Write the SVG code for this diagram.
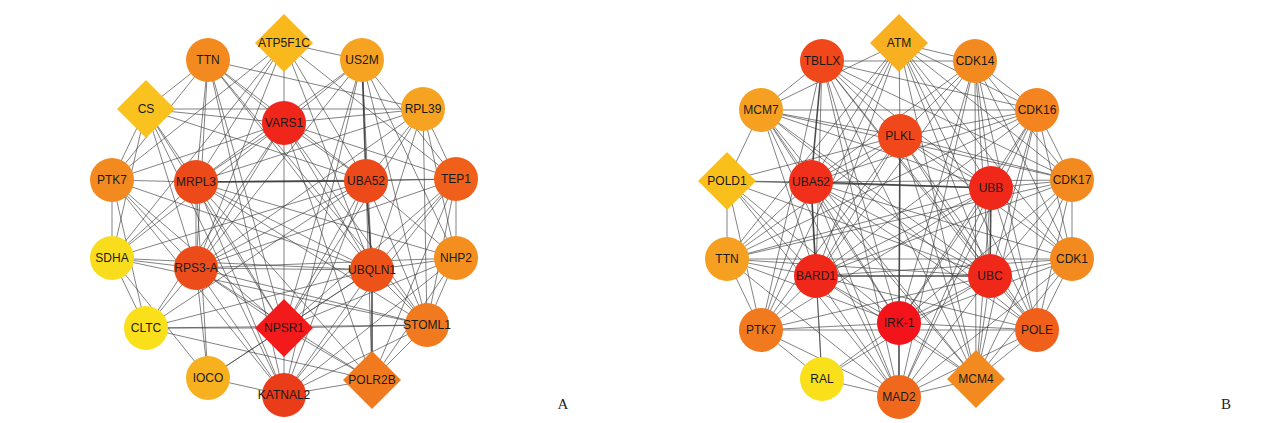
<svg xmlns="http://www.w3.org/2000/svg" width="1268" height="423" viewBox="0 0 1268 423">
<style>
.e line{stroke:#3a3a3a;stroke-width:0.7;stroke-opacity:0.9}
.e line.t{stroke-width:1.6}
text{font-family:"Liberation Sans",Arial,sans-serif;font-size:12px;fill:#1a1a1a;text-anchor:middle;dominant-baseline:central}
.lab{font-family:"Liberation Serif","Times New Roman",serif;font-size:15px;fill:#222}
</style>
<rect width="1268" height="423" fill="#ffffff"/>
<g id="edges-A" class="e">
<line x1="208" y1="60" x2="146" y2="109"/><line x1="208" y1="60" x2="284" y2="123"/><line x1="208" y1="60" x2="196" y2="182"/><line x1="208" y1="60" x2="196" y2="268"/><line x1="208" y1="60" x2="366" y2="181"/><line x1="208" y1="60" x2="423" y2="109"/><line x1="208" y1="60" x2="372" y2="270"/><line x1="208" y1="60" x2="284" y2="395"/><line x1="208" y1="60" x2="427" y2="325"/><line x1="208" y1="60" x2="112" y2="180"/><line x1="208" y1="60" x2="284" y2="328"/>
<line x1="284" y1="43" x2="362" y2="60"/><line x1="284" y1="43" x2="284" y2="123"/><line x1="284" y1="43" x2="196" y2="182"/><line x1="284" y1="43" x2="112" y2="180"/><line x1="284" y1="43" x2="196" y2="268"/><line x1="284" y1="43" x2="366" y2="181"/><line x1="284" y1="43" x2="372" y2="270"/><line x1="284" y1="43" x2="456" y2="179"/><line x1="284" y1="43" x2="112" y2="258"/>
<line x1="362" y1="60" x2="284" y2="123"/><line class="t" x1="362" y1="60" x2="366" y2="181"/><line x1="362" y1="60" x2="196" y2="182"/><line x1="362" y1="60" x2="372" y2="270"/><line x1="362" y1="60" x2="456" y2="179"/><line x1="362" y1="60" x2="456" y2="258"/><line x1="362" y1="60" x2="196" y2="268"/><line x1="362" y1="60" x2="284" y2="328"/><line x1="362" y1="60" x2="284" y2="395"/><line x1="362" y1="60" x2="427" y2="325"/>
<line x1="146" y1="109" x2="284" y2="123"/><line x1="146" y1="109" x2="423" y2="109"/><line x1="146" y1="109" x2="112" y2="180"/><line x1="146" y1="109" x2="196" y2="182"/><line x1="146" y1="109" x2="196" y2="268"/><line x1="146" y1="109" x2="366" y2="181"/><line x1="146" y1="109" x2="112" y2="258"/><line x1="146" y1="109" x2="284" y2="328"/><line x1="146" y1="109" x2="284" y2="395"/>
<line x1="423" y1="109" x2="284" y2="123"/><line x1="423" y1="109" x2="196" y2="182"/><line x1="423" y1="109" x2="366" y2="181"/><line x1="423" y1="109" x2="456" y2="179"/><line x1="423" y1="109" x2="372" y2="270"/><line x1="423" y1="109" x2="456" y2="258"/><line x1="423" y1="109" x2="427" y2="325"/><line x1="423" y1="109" x2="196" y2="268"/><line x1="423" y1="109" x2="284" y2="328"/>
<line x1="284" y1="123" x2="196" y2="182"/><line x1="284" y1="123" x2="366" y2="181"/><line x1="284" y1="123" x2="196" y2="268"/><line x1="284" y1="123" x2="372" y2="270"/><line x1="284" y1="123" x2="284" y2="328"/><line x1="284" y1="123" x2="456" y2="179"/><line x1="284" y1="123" x2="112" y2="258"/><line x1="284" y1="123" x2="427" y2="325"/><line x1="284" y1="123" x2="372" y2="380"/><line x1="284" y1="123" x2="146" y2="328"/><line x1="284" y1="123" x2="112" y2="180"/>
<line x1="112" y1="180" x2="196" y2="182"/><line x1="112" y1="180" x2="112" y2="258"/><line x1="112" y1="180" x2="196" y2="268"/><line x1="112" y1="180" x2="372" y2="270"/><line x1="112" y1="180" x2="146" y2="328"/><line x1="112" y1="180" x2="284" y2="328"/><line x1="112" y1="180" x2="284" y2="395"/>
<line class="t" x1="196" y1="182" x2="366" y2="181"/><line x1="196" y1="182" x2="196" y2="268"/><line x1="196" y1="182" x2="372" y2="270"/><line x1="196" y1="182" x2="284" y2="328"/><line x1="196" y1="182" x2="284" y2="395"/><line x1="196" y1="182" x2="372" y2="380"/><line x1="196" y1="182" x2="427" y2="325"/><line x1="196" y1="182" x2="456" y2="179"/><line x1="196" y1="182" x2="112" y2="258"/><line x1="196" y1="182" x2="456" y2="258"/><line x1="196" y1="182" x2="208" y2="378"/>
<line x1="366" y1="181" x2="456" y2="179"/><line class="t" x1="366" y1="181" x2="372" y2="270"/><line x1="366" y1="181" x2="196" y2="268"/><line x1="366" y1="181" x2="284" y2="328"/><line x1="366" y1="181" x2="284" y2="395"/><line x1="366" y1="181" x2="427" y2="325"/><line x1="366" y1="181" x2="456" y2="258"/><line x1="366" y1="181" x2="372" y2="380"/><line x1="366" y1="181" x2="146" y2="328"/><line x1="366" y1="181" x2="112" y2="258"/>
<line x1="456" y1="179" x2="372" y2="270"/><line x1="456" y1="179" x2="456" y2="258"/><line x1="456" y1="179" x2="427" y2="325"/><line x1="456" y1="179" x2="196" y2="268"/><line x1="456" y1="179" x2="284" y2="328"/><line x1="456" y1="179" x2="284" y2="395"/><line x1="456" y1="179" x2="372" y2="380"/>
<line x1="112" y1="258" x2="196" y2="268"/><line x1="112" y1="258" x2="146" y2="328"/><line x1="112" y1="258" x2="372" y2="270"/><line x1="112" y1="258" x2="427" y2="325"/><line x1="112" y1="258" x2="208" y2="378"/>
<line x1="196" y1="268" x2="372" y2="270"/><line x1="196" y1="268" x2="284" y2="328"/><line x1="196" y1="268" x2="284" y2="395"/><line x1="196" y1="268" x2="372" y2="380"/><line x1="196" y1="268" x2="427" y2="325"/><line x1="196" y1="268" x2="146" y2="328"/><line x1="196" y1="268" x2="456" y2="258"/><line x1="196" y1="268" x2="208" y2="378"/>
<line x1="372" y1="270" x2="456" y2="258"/><line x1="372" y1="270" x2="427" y2="325"/><line class="t" x1="372" y1="270" x2="372" y2="380"/><line x1="372" y1="270" x2="284" y2="328"/><line x1="372" y1="270" x2="284" y2="395"/><line x1="372" y1="270" x2="146" y2="328"/><line x1="372" y1="270" x2="208" y2="378"/>
<line x1="456" y1="258" x2="427" y2="325"/><line x1="456" y1="258" x2="284" y2="328"/><line x1="456" y1="258" x2="284" y2="395"/><line x1="456" y1="258" x2="372" y2="380"/>
<line x1="146" y1="328" x2="284" y2="328"/><line x1="146" y1="328" x2="427" y2="325"/><line x1="146" y1="328" x2="372" y2="380"/>
<line x1="284" y1="328" x2="427" y2="325"/><line x1="284" y1="328" x2="284" y2="395"/><line x1="284" y1="328" x2="372" y2="380"/><line x1="284" y1="328" x2="208" y2="378"/>
<line x1="427" y1="325" x2="372" y2="380"/><line x1="427" y1="325" x2="284" y2="395"/>
<line x1="208" y1="378" x2="284" y2="395"/><line x1="284" y1="395" x2="372" y2="380"/>
</g>
<g id="edges-B" class="e">
<line x1="899" y1="43" x2="975" y2="61"/><line x1="899" y1="43" x2="900" y2="136"/><line x1="899" y1="43" x2="811" y2="182"/><line x1="899" y1="43" x2="991" y2="188"/><line x1="899" y1="43" x2="990" y2="276"/><line x1="899" y1="43" x2="816" y2="276"/><line x1="899" y1="43" x2="1037" y2="110"/><line x1="899" y1="43" x2="1072" y2="180"/><line x1="899" y1="43" x2="1072" y2="259"/><line x1="899" y1="43" x2="1037" y2="330"/><line x1="899" y1="43" x2="761" y2="110"/><line x1="899" y1="43" x2="727" y2="259"/><line x1="899" y1="43" x2="976" y2="379"/><line x1="899" y1="43" x2="761" y2="330"/>
<line x1="822" y1="61" x2="975" y2="61"/><line x1="822" y1="61" x2="761" y2="110"/><line x1="822" y1="61" x2="900" y2="136"/><line class="t" x1="822" y1="61" x2="811" y2="182"/><line x1="822" y1="61" x2="991" y2="188"/><line x1="822" y1="61" x2="990" y2="276"/><line x1="822" y1="61" x2="816" y2="276"/><line x1="822" y1="61" x2="899" y2="323"/><line x1="822" y1="61" x2="1037" y2="110"/><line x1="822" y1="61" x2="1072" y2="180"/><line x1="822" y1="61" x2="1037" y2="330"/><line x1="822" y1="61" x2="899" y2="397"/><line x1="822" y1="61" x2="976" y2="379"/><line x1="822" y1="61" x2="761" y2="330"/>
<line x1="975" y1="61" x2="900" y2="136"/><line x1="975" y1="61" x2="811" y2="182"/><line x1="975" y1="61" x2="991" y2="188"/><line x1="975" y1="61" x2="990" y2="276"/><line x1="975" y1="61" x2="816" y2="276"/><line x1="975" y1="61" x2="899" y2="323"/><line x1="975" y1="61" x2="1037" y2="110"/><line x1="975" y1="61" x2="1072" y2="180"/><line x1="975" y1="61" x2="1072" y2="259"/><line x1="975" y1="61" x2="976" y2="379"/><line x1="975" y1="61" x2="1037" y2="330"/><line x1="975" y1="61" x2="899" y2="397"/>
<line x1="761" y1="110" x2="1037" y2="110"/><line x1="761" y1="110" x2="900" y2="136"/><line x1="761" y1="110" x2="811" y2="182"/><line x1="761" y1="110" x2="991" y2="188"/><line x1="761" y1="110" x2="990" y2="276"/><line x1="761" y1="110" x2="816" y2="276"/><line x1="761" y1="110" x2="899" y2="323"/><line x1="761" y1="110" x2="727" y2="181"/><line x1="761" y1="110" x2="899" y2="397"/><line x1="761" y1="110" x2="976" y2="379"/><line x1="761" y1="110" x2="1072" y2="180"/><line x1="761" y1="110" x2="1037" y2="330"/>
<line x1="1037" y1="110" x2="900" y2="136"/><line x1="1037" y1="110" x2="811" y2="182"/><line x1="1037" y1="110" x2="991" y2="188"/><line x1="1037" y1="110" x2="990" y2="276"/><line x1="1037" y1="110" x2="816" y2="276"/><line x1="1037" y1="110" x2="899" y2="323"/><line x1="1037" y1="110" x2="1072" y2="180"/><line x1="1037" y1="110" x2="1072" y2="259"/><line x1="1037" y1="110" x2="1037" y2="330"/><line x1="1037" y1="110" x2="976" y2="379"/><line x1="1037" y1="110" x2="899" y2="397"/><line x1="1037" y1="110" x2="727" y2="259"/>
<line x1="900" y1="136" x2="811" y2="182"/><line x1="900" y1="136" x2="991" y2="188"/><line x1="900" y1="136" x2="990" y2="276"/><line x1="900" y1="136" x2="816" y2="276"/><line class="t" x1="900" y1="136" x2="899" y2="323"/><line x1="900" y1="136" x2="727" y2="181"/><line x1="900" y1="136" x2="1072" y2="180"/><line x1="900" y1="136" x2="1072" y2="259"/><line x1="900" y1="136" x2="727" y2="259"/><line x1="900" y1="136" x2="761" y2="330"/><line x1="900" y1="136" x2="1037" y2="330"/><line x1="900" y1="136" x2="976" y2="379"/>
<line x1="727" y1="181" x2="811" y2="182"/><line x1="727" y1="181" x2="727" y2="259"/><line x1="727" y1="181" x2="816" y2="276"/><line x1="727" y1="181" x2="991" y2="188"/><line x1="727" y1="181" x2="990" y2="276"/><line x1="727" y1="181" x2="899" y2="323"/><line x1="727" y1="181" x2="761" y2="330"/><line x1="727" y1="181" x2="899" y2="397"/>
<line class="t" x1="811" y1="182" x2="991" y2="188"/><line class="t" x1="811" y1="182" x2="816" y2="276"/><line x1="811" y1="182" x2="990" y2="276"/><line x1="811" y1="182" x2="899" y2="323"/><line x1="811" y1="182" x2="899" y2="397"/><line x1="811" y1="182" x2="976" y2="379"/><line x1="811" y1="182" x2="727" y2="259"/><line x1="811" y1="182" x2="761" y2="330"/><line x1="811" y1="182" x2="1072" y2="180"/><line x1="811" y1="182" x2="1072" y2="259"/><line x1="811" y1="182" x2="1037" y2="330"/><line x1="811" y1="182" x2="822" y2="379"/>
<line x1="991" y1="188" x2="1072" y2="180"/><line class="t" x1="991" y1="188" x2="990" y2="276"/><line x1="991" y1="188" x2="816" y2="276"/><line x1="991" y1="188" x2="899" y2="323"/><line x1="991" y1="188" x2="1072" y2="259"/><line x1="991" y1="188" x2="1037" y2="330"/><line x1="991" y1="188" x2="976" y2="379"/><line x1="991" y1="188" x2="899" y2="397"/><line x1="991" y1="188" x2="727" y2="259"/><line x1="991" y1="188" x2="761" y2="330"/>
<line x1="1072" y1="180" x2="990" y2="276"/><line x1="1072" y1="180" x2="1072" y2="259"/><line x1="1072" y1="180" x2="1037" y2="330"/><line x1="1072" y1="180" x2="976" y2="379"/><line x1="1072" y1="180" x2="816" y2="276"/><line x1="1072" y1="180" x2="899" y2="323"/><line x1="1072" y1="180" x2="727" y2="259"/>
<line x1="727" y1="259" x2="816" y2="276"/><line x1="727" y1="259" x2="761" y2="330"/><line x1="727" y1="259" x2="990" y2="276"/><line x1="727" y1="259" x2="899" y2="323"/><line x1="727" y1="259" x2="899" y2="397"/><line x1="727" y1="259" x2="1072" y2="259"/>
<line class="t" x1="816" y1="276" x2="990" y2="276"/><line x1="816" y1="276" x2="899" y2="323"/><line x1="816" y1="276" x2="761" y2="330"/><line x1="816" y1="276" x2="899" y2="397"/><line x1="816" y1="276" x2="976" y2="379"/><line x1="816" y1="276" x2="822" y2="379"/><line x1="816" y1="276" x2="1037" y2="330"/><line x1="816" y1="276" x2="1072" y2="259"/>
<line x1="990" y1="276" x2="1072" y2="259"/><line x1="990" y1="276" x2="899" y2="323"/><line x1="990" y1="276" x2="1037" y2="330"/><line x1="990" y1="276" x2="976" y2="379"/><line x1="990" y1="276" x2="899" y2="397"/><line x1="990" y1="276" x2="761" y2="330"/><line x1="990" y1="276" x2="822" y2="379"/>
<line x1="1072" y1="259" x2="1037" y2="330"/><line x1="1072" y1="259" x2="976" y2="379"/><line x1="1072" y1="259" x2="899" y2="323"/><line x1="1072" y1="259" x2="899" y2="397"/>
<line x1="761" y1="330" x2="899" y2="323"/><line x1="761" y1="330" x2="822" y2="379"/><line x1="761" y1="330" x2="899" y2="397"/><line x1="761" y1="330" x2="1037" y2="330"/>
<line x1="899" y1="323" x2="1037" y2="330"/><line class="t" x1="899" y1="323" x2="899" y2="397"/><line x1="899" y1="323" x2="976" y2="379"/><line x1="899" y1="323" x2="822" y2="379"/>
<line x1="1037" y1="330" x2="976" y2="379"/><line x1="1037" y1="330" x2="899" y2="397"/>
<line x1="822" y1="379" x2="899" y2="397"/><line x1="899" y1="397" x2="976" y2="379"/>
</g>
<g id="A-TTN"><circle cx="208" cy="60" r="22" fill="#f38a1f"/><text x="208" y="60">TTN</text></g>
<g id="A-ATP5F1C"><polygon points="284,14 313,43 284,72 255,43" fill="#f9b81c"/><text x="284" y="43">ATP5F1C</text></g>
<g id="A-US2M"><circle cx="362" cy="60" r="22" fill="#f6a321"/><text x="362" y="60">US2M</text></g>
<g id="A-CS"><polygon points="146,80 175,109 146,138 117,109" fill="#f9c21e"/><text x="146" y="109">CS</text></g>
<g id="A-RPL39"><circle cx="423" cy="109" r="22" fill="#f6a321"/><text x="423" y="109">RPL39</text></g>
<g id="A-VARS1"><circle cx="284" cy="123" r="22" fill="#f1261a"/><text x="284" y="123">VARS1</text></g>
<g id="A-PTK7"><circle cx="112" cy="180" r="22" fill="#f38a1f"/><text x="112" y="180">PTK7</text></g>
<g id="A-MRPL3"><circle cx="196" cy="182" r="22" fill="#ec4a19"/><text x="196" y="182">MRPL3</text></g>
<g id="A-UBA52"><circle cx="366" cy="181" r="22" fill="#ec4a19"/><text x="366" y="181">UBA52</text></g>
<g id="A-TEP1"><circle cx="456" cy="179" r="22" fill="#f0601a"/><text x="456" y="179">TEP1</text></g>
<g id="A-SDHA"><circle cx="112" cy="258" r="22" fill="#f9dc1c"/><text x="112" y="258">SDHA</text></g>
<g id="A-RPS3-A"><circle cx="196" cy="268" r="22" fill="#ec4c19"/><text x="196" y="268">RPS3-A</text></g>
<g id="A-UBQLN1"><circle cx="372" cy="270" r="22" fill="#ed5219"/><text x="372" y="270">UBQLN1</text></g>
<g id="A-NHP2"><circle cx="456" cy="258" r="22" fill="#f48f1f"/><text x="456" y="258">NHP2</text></g>
<g id="A-CLTC"><circle cx="146" cy="328" r="22" fill="#f9e01a"/><text x="146" y="328">CLTC</text></g>
<g id="A-NPSR1"><polygon points="284,299 313,328 284,357 255,328" fill="#f21a1a"/><text x="284" y="328">NPSR1</text></g>
<g id="A-STOML1"><circle cx="427" cy="325" r="22" fill="#f27a1e"/><text x="427" y="325">STOML1</text></g>
<g id="A-IOCO"><circle cx="208" cy="378" r="22" fill="#f7b11f"/><text x="208" y="378">IOCO</text></g>
<g id="A-KATNAL2"><circle cx="284" cy="395" r="22" fill="#ea3c18"/><text x="284" y="395">KATNAL2</text></g>
<g id="A-POLR2B"><polygon points="372,351 401,380 372,409 343,380" fill="#f27a1e"/><text x="372" y="380">POLR2B</text></g>
<g id="B-ATM"><polygon points="899,14 928,43 899,72 870,43" fill="#f8af20"/><text x="899" y="43">ATM</text></g>
<g id="B-TBLLX"><circle cx="822" cy="61" r="22" fill="#f0481a"/><text x="822" y="61">TBLLX</text></g>
<g id="B-CDK14"><circle cx="975" cy="61" r="22" fill="#f38a1f"/><text x="975" y="61">CDK14</text></g>
<g id="B-MCM7"><circle cx="761" cy="110" r="22" fill="#f5a020"/><text x="761" y="110">MCM7</text></g>
<g id="B-CDK16"><circle cx="1037" cy="110" r="22" fill="#f3841f"/><text x="1037" y="110">CDK16</text></g>
<g id="B-PLKL"><circle cx="900" cy="136" r="22" fill="#f0481a"/><text x="900" y="136">PLKL</text></g>
<g id="B-POLD1"><polygon points="727,152 756,181 727,210 698,181" fill="#f9c01c"/><text x="727" y="181">POLD1</text></g>
<g id="B-UBA52"><circle cx="811" cy="182" r="22" fill="#f0301a"/><text x="811" y="182">UBA52</text></g>
<g id="B-UBB"><circle cx="991" cy="188" r="22" fill="#f0281a"/><text x="991" y="188">UBB</text></g>
<g id="B-CDK17"><circle cx="1072" cy="180" r="22" fill="#f38a1f"/><text x="1072" y="180">CDK17</text></g>
<g id="B-TTN"><circle cx="727" cy="259" r="22" fill="#f5a020"/><text x="727" y="259">TTN</text></g>
<g id="B-BARD1"><circle cx="816" cy="276" r="22" fill="#f0281a"/><text x="816" y="276">BARD1</text></g>
<g id="B-UBC"><circle cx="990" cy="276" r="22" fill="#f0281a"/><text x="990" y="276">UBC</text></g>
<g id="B-CDK1"><circle cx="1072" cy="259" r="22" fill="#f38a1f"/><text x="1072" y="259">CDK1</text></g>
<g id="B-PTK7"><circle cx="761" cy="330" r="22" fill="#f27a1e"/><text x="761" y="330">PTK7</text></g>
<g id="B-IRK-1"><circle cx="899" cy="323" r="22" fill="#f2141a"/><text x="899" y="323">IRK-1</text></g>
<g id="B-POLE"><circle cx="1037" cy="330" r="22" fill="#f0601a"/><text x="1037" y="330">POLE</text></g>
<g id="B-RAL"><circle cx="822" cy="379" r="22" fill="#f9e01a"/><text x="822" y="379">RAL</text></g>
<g id="B-MAD2"><circle cx="899" cy="397" r="22" fill="#f0681b"/><text x="899" y="397">MAD2</text></g>
<g id="B-MCM4"><polygon points="976,350 1005,379 976,408 947,379" fill="#f38a1f"/><text x="976" y="379">MCM4</text></g>
<text class="lab" x="563" y="404">A</text>
<text class="lab" x="1226" y="404">B</text>
</svg>
